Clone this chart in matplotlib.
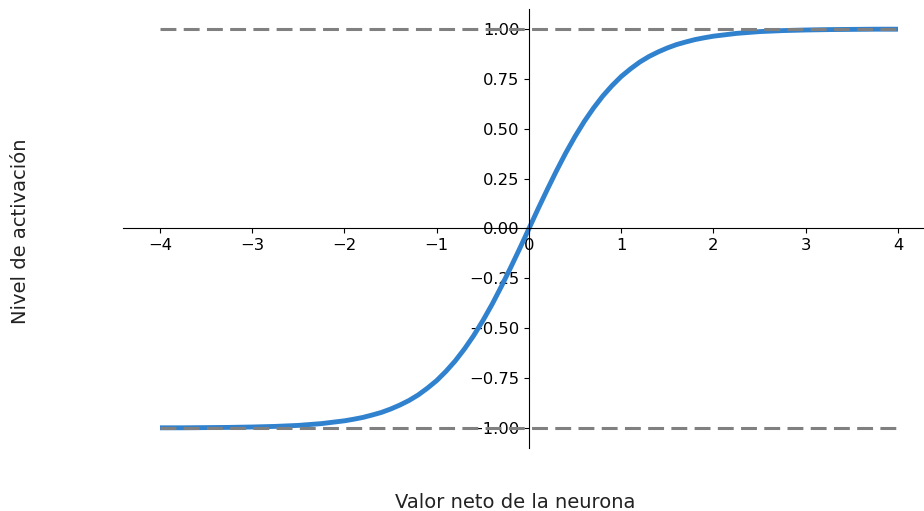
import matplotlib
matplotlib.use("Agg")
import matplotlib.pyplot as plt

# net input of the neuron and activation level
net_input = [-4.0, -3.75, -3.5, -3.25, -3.0, -2.75, -2.5, -2.25,
             -2.0, -1.9, -1.8, -1.7, -1.6, -1.5, -1.4, -1.3, -1.2, -1.1,
             -1.0, -0.9, -0.8, -0.7, -0.6, -0.5, -0.4, -0.3, -0.2, -0.1,
             0.0, 0.1, 0.2, 0.3, 0.4, 0.5, 0.6, 0.7, 0.8, 0.9,
             1.0, 1.1, 1.2, 1.3, 1.4, 1.5, 1.6, 1.7, 1.8, 1.9,
             2.0, 2.25, 2.5, 2.75, 3.0, 3.25, 3.5, 3.75, 4.0]
activation = [-0.999, -0.999, -0.998, -0.997, -0.995, -0.992, -0.987, -0.978,
              -0.964, -0.956, -0.947, -0.935, -0.922, -0.905, -0.885, -0.862, -0.834, -0.800,
              -0.762, -0.716, -0.664, -0.604, -0.537, -0.462, -0.380, -0.291, -0.197, -0.100,
              0.0, 0.100, 0.197, 0.291, 0.380, 0.462, 0.537, 0.604, 0.664, 0.716,
              0.762, 0.800, 0.834, 0.862, 0.885, 0.905, 0.922, 0.935, 0.947, 0.956,
              0.964, 0.978, 0.987, 0.992, 0.995, 0.997, 0.998, 0.999, 0.999]

# saturation limits
limit_x = [-4.0, 4.0]
upper_limit = [1.0, 1.0]
lower_limit = [-1.0, -1.0]

x_ticks = [-4, -3, -2, -1, 0, 1, 2, 3, 4]
y_ticks = [-1.0, -0.75, -0.5, -0.25, 0.0, 0.25, 0.5, 0.75, 1.0]

fig = plt.figure(figsize=(9.24, 5.11), dpi=100)
ax = fig.add_axes([0.1332, 0.1234, 0.8786, 0.8589])

ax.plot(net_input, activation, color="#3182ce", linewidth=3.5, solid_capstyle="butt")
ax.plot(limit_x, upper_limit, color="gray", linewidth=2.2, linestyle=(0, (5.2, 2.4)))
ax.plot(limit_x, lower_limit, color="gray", linewidth=2.2, linestyle=(0, (5.2, 2.4)))

ax.set_xlim(-4.4, 4.4)
ax.set_ylim(-1.1, 1.1)

ax.spines["left"].set_position(("data", 0))
ax.spines["bottom"].set_position(("data", 0))
ax.spines["top"].set_visible(False)
ax.spines["right"].set_visible(False)

ax.set_xticks(x_ticks)
ax.set_yticks(y_ticks)
ax.set_yticklabels([f"{v:.2f}".replace("-", "\u2212") for v in y_ticks])
ax.tick_params(labelsize=11.8)

fig.text(0.558, 0.016, "Valor neto de la neurona", ha="center", va="center",
         fontsize=14, color="#222222")
fig.text(0.022, 0.548, "Nivel de activación", ha="center", va="center",
         rotation=90, fontsize=14, color="#222222")

fig.savefig("out.png", dpi=100)
